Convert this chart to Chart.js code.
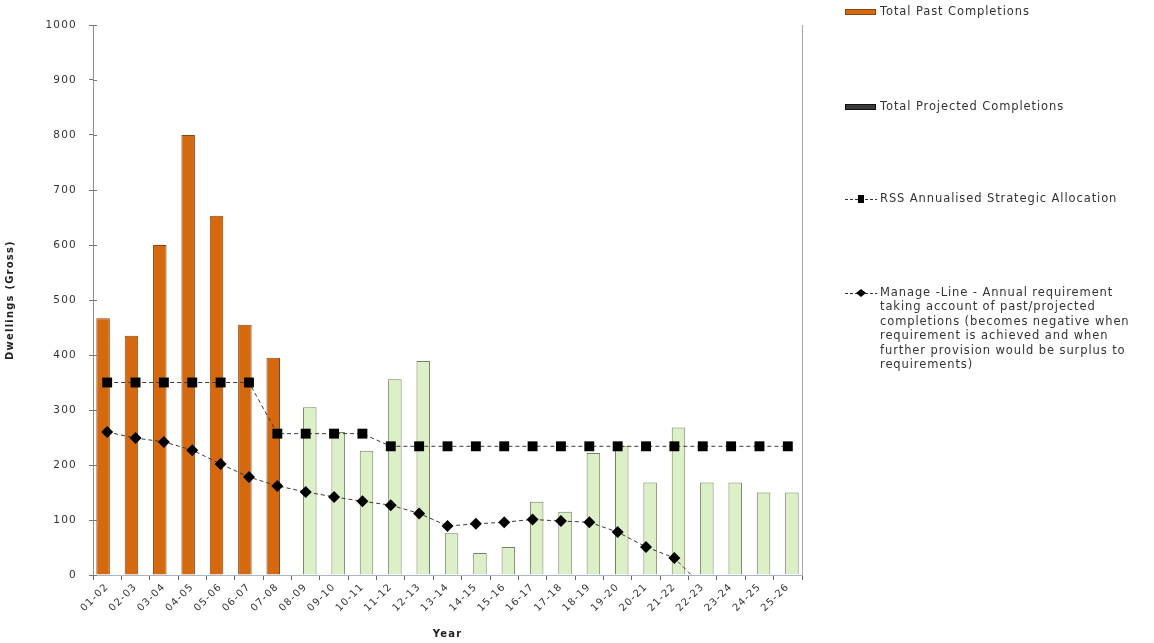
<!DOCTYPE html>
<html>
<head>
<meta charset="utf-8">
<title>Dwelling completions and requirement</title>
<script src="https://cdn.jsdelivr.net/npm/chart.js@4/dist/chart.umd.min.js"></script>
<style>
  html, body { margin: 0; padding: 0; background: #ffffff; }
  canvas { display: block; }
</style>
</head>
<body>
<canvas id="chart" width="1154" height="643"></canvas>
<script>
// Financial years (x categories)
const years = ['01-02', '02-03', '03-04', '04-05', '05-06', '06-07', '07-08', '08-09', '09-10',
  '10-11', '11-12', '12-13', '13-14', '14-15', '15-16', '16-17', '17-18', '18-19', '19-20',
  '20-21', '21-22', '22-23', '23-24', '24-25', '25-26'];

// Completed dwellings (gross)
const pastCompletions = [467, 435, 600, 800, 653, 455, 395,
  null, null, null, null, null, null, null, null, null, null, null, null, null, null, null, null, null, null];

// Projected dwellings (gross)
const projectedCompletions = [null, null, null, null, null, null, null,
  305, 260, 226, 356, 389, 76, 40, 51, 133, 115, 222, 235, 168, 268, 168, 168, 150, 150];

// RSS annualised strategic allocation
const rssAllocation = [350, 350, 350, 350, 350, 350, 257, 257, 257, 257,
  234, 234, 234, 234, 234, 234, 234, 234, 234, 234, 234, 234, 234, 234, 234];

// Manage line: annual requirement after past/projected completions
const manageLine = [260, 249, 242, 227, 202, 178, 162, 151, 142, 134, 127, 112, 89, 93, 96,
  101, 98, 96, 78, 51, 31, -21, null, null, null];

// Value axis
const yMin = 0, yMax = 1000, yStep = 100;

// Legend wording
const legendTexts = [
  ['Total Past Completions'],
  ['Total Projected Completions'],
  ['RSS Annualised Strategic Allocation'],
  ['Manage -Line - Annual requirement',
   'taking account of past/projected',
   'completions (becomes negative when',
   'requirement is achieved and when',
   'further provision would be surplus to',
   'requirements)']
];

const FONT = "'DejaVu Sans', Verdana, sans-serif";
const TEXT = '#333333';
const ORANGE = '#d4690f';
const ORANGE_EDGE = '#8a4510';
const GREEN = '#dcefc6';
const GREEN_EDGE = '#6f8460';
const PROJ_SWATCH = '#3a3a3a';

// slightly widened lettering throughout the canvas
const letterSpacing = {
  id: 'letterSpacing',
  beforeUpdate(chart) { chart.ctx.letterSpacing = '1.2px'; },
  beforeDraw(chart) { chart.ctx.letterSpacing = '1.2px'; }
};

// plot frame on the right and tick marks reaching into the plot
const frame = {
  id: 'frame',
  afterDatasetsDraw(chart) {
    const { ctx, chartArea: a, scales } = chart;
    ctx.save();
    ctx.strokeStyle = '#a8a8a8';
    ctx.lineWidth = 1;
    ctx.beginPath();
    ctx.moveTo(a.right + 0.5, a.top);
    ctx.lineTo(a.right + 0.5, a.bottom);
    ctx.stroke();
    ctx.strokeStyle = '#777777';
    ctx.beginPath();
    scales.y.ticks.forEach(t => {
      const y = Math.round(scales.y.getPixelForValue(t.value)) + 0.5;
      ctx.moveTo(a.left, y);
      ctx.lineTo(a.left + 4, y);
    });
    ctx.stroke();
    ctx.restore();
  }
};

// legend column to the right of the plot
const sideLegend = {
  id: 'sideLegend',
  afterDraw(chart) {
    const { ctx, chartArea: a } = chart;
    const x0 = a.right + 43;
    const tx = a.right + 78;
    const rows = [12, 107, 199, 293];
    const lineGap = 14.4;
    ctx.save();
    ctx.letterSpacing = '0.9px';
    ctx.font = '11.5px ' + FONT;
    ctx.fillStyle = TEXT;
    ctx.textBaseline = 'middle';
    ctx.textAlign = 'left';
    rows.forEach((y, i) => {
      if (i === 0 || i === 1) {
        ctx.fillStyle = i === 0 ? ORANGE : PROJ_SWATCH;
        ctx.fillRect(x0, y - 3, 31, 6);
        ctx.strokeStyle = i === 0 ? ORANGE_EDGE : '#111';
        ctx.lineWidth = 1;
        ctx.strokeRect(x0 + 0.5, y - 2.5, 30, 5);
      } else {
        ctx.strokeStyle = '#333';
        ctx.lineWidth = 1;
        ctx.setLineDash([3, 2]);
        ctx.beginPath();
        ctx.moveTo(x0, y + 0.5);
        ctx.lineTo(x0 + 32, y + 0.5);
        ctx.stroke();
        ctx.setLineDash([]);
        ctx.fillStyle = '#000';
        const cx = x0 + 16;
        ctx.beginPath();
        if (i === 2) {
          ctx.rect(cx - 3, y - 4, 6, 8);
        } else {
          ctx.moveTo(cx - 5, y);
          ctx.lineTo(cx, y - 4);
          ctx.lineTo(cx + 5, y);
          ctx.lineTo(cx, y + 4);
          ctx.closePath();
        }
        ctx.fill();
      }
      ctx.fillStyle = TEXT;
      legendTexts[i].forEach((line, k) => {
        ctx.fillText(line, tx, y + k * lineGap);
      });
    });
    ctx.restore();
  }
};

new Chart(document.getElementById('chart'), {
  data: {
    labels: years,
    datasets: [
      {
        type: 'line',
        label: 'RSS Annualised Strategic Allocation',
        data: rssAllocation,
        order: 0,
        borderColor: '#3a3a3a',
        borderWidth: 1,
        borderDash: [4, 3],
        pointStyle: 'rect',
        pointRadius: 7,
        pointBackgroundColor: '#000',
        pointBorderColor: '#000',
        pointBorderWidth: 0,
        tension: 0
      },
      {
        type: 'line',
        label: 'Manage -Line',
        data: manageLine,
        order: 0,
        borderColor: '#3a3a3a',
        borderWidth: 1,
        borderDash: [4, 3],
        pointStyle: 'rectRot',
        pointRadius: 6,
        pointBackgroundColor: '#000',
        pointBorderColor: '#000',
        pointBorderWidth: 0,
        tension: 0
      },
      {
        type: 'bar',
        label: 'Total Past Completions',
        data: pastCompletions,
        order: 1,
        backgroundColor: ORANGE,
        borderColor: ORANGE_EDGE,
        borderWidth: 1,
        categoryPercentage: 0.578,
        barPercentage: 1.65
      },
      {
        type: 'bar',
        label: 'Total Projected Completions',
        data: projectedCompletions,
        order: 1,
        backgroundColor: GREEN,
        borderColor: GREEN_EDGE,
        borderWidth: 1,
        categoryPercentage: 0.578,
        barPercentage: 1.65
      }
    ]
  },
  options: {
    responsive: false,
    animation: false,
    layout: { padding: { top: 25, right: 352, left: 0, bottom: 0 } },
    plugins: {
      legend: { display: false },
      tooltip: { enabled: false }
    },
    scales: {
      x: {
        type: 'category',
        offset: true,
        grid: {
          offset: true,
          drawOnChartArea: false,
          drawTicks: true,
          tickLength: 5,
          color: '#666'
        },
        border: { color: '#a9b6c4', width: 1 },
        ticks: {
          autoSkip: false,
          minRotation: 45,
          maxRotation: 45,
          padding: 1,
          color: TEXT,
          font: { family: FONT, size: 10 }
        },
        title: {
          display: true,
          text: 'Year',
          color: '#222',
          font: { family: FONT, size: 10, weight: 'bold' },
          padding: { top: 2, bottom: 3 }
        },
        afterFit(scale) { scale.height = 68; }
      },
      y: {
        min: yMin,
        max: yMax,
        grid: {
          drawOnChartArea: false,
          drawTicks: true,
          tickLength: 4,
          color: '#777'
        },
        border: { color: '#8f8f8f', width: 1 },
        ticks: {
          stepSize: yStep,
          padding: 12,
          color: TEXT,
          font: { family: FONT, size: 10.5 },
          callback: v => String(v)
        },
        title: {
          display: true,
          text: 'Dwellings (Gross)',
          color: '#222',
          font: { family: FONT, size: 10, weight: 'bold' },
          padding: { top: 4, bottom: 4 }
        },
        afterFit(scale) { scale.width = 93; }
      }
    }
  },
  plugins: [letterSpacing, frame, sideLegend]
});
</script>
</body>
</html>
